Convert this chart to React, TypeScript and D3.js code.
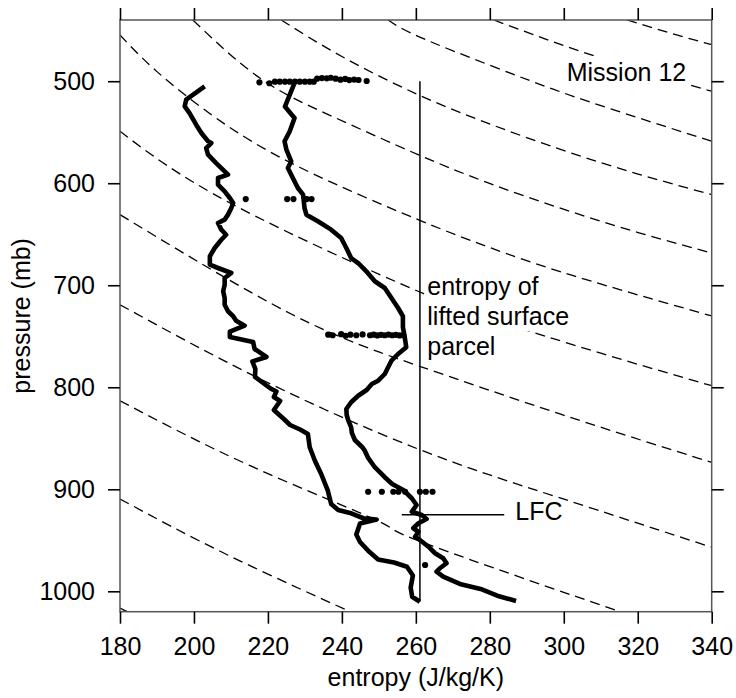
import { useEffect, useRef } from "react";
import * as d3 from "d3";

type Pt = [number, number];

const xTicks = [180, 200, 220, 240, 260, 280, 300, 320, 340];
const yTicks = [500, 600, 700, 800, 900, 1000];

// moist entropy profile: [entropy, pressure]
const entropyProfile: Pt[] = [
  [202.9, 505.0], [197.9, 518.1], [197.5, 524.6], [198.8, 531.2], [200.6, 542.6],
  [202.0, 550.8], [203.8, 558.9], [204.7, 560.6], [203.3, 565.5], [203.8, 572.0],
  [206.0, 580.2], [208.3, 588.3], [209.2, 591.6], [206.5, 594.9], [206.5, 601.4],
  [208.3, 607.9], [209.7, 614.5], [210.6, 619.4], [210.1, 624.3], [209.2, 630.8],
  [208.3, 635.7], [206.5, 639.0], [207.4, 645.5], [208.7, 650.5], [207.4, 655.4],
  [205.6, 663.5], [204.3, 671.6], [204.3, 679.9], [206.5, 683.1], [210.1, 688.0],
  [208.3, 692.9], [208.3, 699.5], [207.9, 705.9], [208.3, 712.5], [208.3, 719.1],
  [209.2, 725.5], [210.6, 730.4], [211.4, 734.8], [213.7, 739.6], [209.7, 745.5],
  [209.7, 750.7], [216.0, 755.6], [216.4, 762.5], [219.6, 770.3], [215.8, 774.7],
  [216.6, 782.1], [216.5, 789.9], [220.7, 801.2], [222.3, 804.2], [221.6, 809.5],
  [223.3, 813.5], [221.6, 822.3], [224.3, 831.1], [226.0, 837.0], [228.7, 841.4],
  [230.8, 845.8], [231.3, 858.8], [232.7, 872.0], [234.4, 885.0], [236.2, 901.4],
  [237.1, 914.4], [239.0, 920.3], [242.2, 923.2], [245.8, 928.4], [249.4, 929.6],
  [244.9, 933.5], [243.9, 944.3], [244.9, 951.7], [247.1, 960.2], [249.8, 968.8],
  [254.1, 971.8], [257.6, 975.9], [259.2, 984.5], [258.6, 996.3], [259.0, 1005.3],
  [261.1, 1010.2],
];

// saturated moist entropy profile: [entropy, pressure]
const satEntropyProfile: Pt[] = [
  [227.1, 502.5], [224.6, 524.8], [226.5, 533.1], [227.2, 536.1], [225.9, 549.1],
  [224.5, 558.9], [225.0, 567.1], [226.3, 578.5], [225.4, 585.1], [226.3, 591.6],
  [228.1, 604.7], [229.5, 611.2], [229.9, 624.3], [230.4, 630.8], [233.5, 637.3],
  [237.1, 645.5], [239.8, 653.7], [241.2, 663.5], [242.5, 673.3], [244.4, 678.2],
  [246.6, 686.3], [248.9, 696.1], [251.6, 702.7], [253.4, 712.5], [255.2, 722.3],
  [256.5, 730.4], [256.5, 741.2], [257.0, 751.0], [257.4, 760.8], [255.2, 767.4],
  [253.4, 774.0], [252.5, 780.4], [251.6, 787.0], [249.8, 793.6], [248.1, 796.8],
  [246.7, 802.7], [244.4, 808.3], [242.5, 814.7], [241.2, 821.3], [241.3, 827.2],
  [241.7, 832.1], [242.5, 839.2], [242.7, 844.8], [243.5, 851.7], [245.4, 858.3],
  [246.2, 862.2], [247.1, 869.3], [248.9, 878.4], [251.6, 888.2], [253.6, 894.8],
  [256.6, 900.7], [258.9, 908.8], [260.2, 915.4], [258.9, 922.0], [261.6, 925.2],
  [262.9, 929.1], [260.7, 933.3], [259.3, 938.2], [260.7, 941.6], [259.8, 946.5],
  [261.1, 949.7], [263.4, 956.3], [265.2, 962.7], [267.4, 967.6], [268.3, 972.5],
  [266.5, 977.4], [265.6, 980.8], [267.4, 985.7], [271.9, 992.8], [277.5, 997.7],
  [282.0, 1004.3], [287.1, 1009.5],
];

// individual sounding points
const dots500: Pt[] = [
  [217.7, 501.1], [220.4, 502.0], [221.9, 500.5], [223.2, 500.5], [224.6, 500.5],
  [225.9, 500.5], [227.3, 500.5], [228.6, 500.5], [230.0, 500.5], [231.3, 500.5],
  [232.4, 500.5], [233.3, 497.5], [234.6, 496.9], [235.9, 497.2], [237.0, 496.6],
  [238.3, 497.5], [239.6, 498.5], [240.9, 497.8], [242.0, 498.9], [243.3, 498.4],
  [244.5, 498.8], [246.7, 499.8],
];
const dots615: Pt[] = [[214.0, 615.5], [225.2, 615.5], [226.9, 615.5], [230.5, 615.5], [231.8, 615.5]];
const dots748: Pt[] = [
  [236.3, 748.5], [237.5, 749.0], [239.8, 748.0], [241.0, 749.5], [242.3, 748.5],
  [243.9, 749.0], [245.6, 748.2], [247.6, 749.0], [248.6, 748.5], [249.6, 749.2],
  [250.6, 748.6], [251.6, 749.0], [252.6, 748.4], [253.6, 749.0], [254.6, 748.6],
  [255.6, 749.2], [256.6, 748.8],
];
const dots902: Pt[] = [
  [247.1, 902.4], [250.8, 902.4], [253.9, 902.4], [255.3, 902.4], [257.1, 902.4],
  [261.1, 902.4], [262.7, 902.4], [264.5, 902.4],
];
const dots974: Pt[] = [[262.5, 974.2]];

// dashed reference curves
const dashed1: Pt[] = [[317.1, 440], [328.7, 452.7], [340, 464.2]];
const dashed2: Pt[] = [[281.1, 440], [294.9, 458.5], [308.6, 475.6], [323.3, 492.3], [340, 509.9]];
const dashed3: Pt[] = [[252.5, 440], [260.6, 456], [280.1, 484.5], [300.1, 511.7], [320.1, 535.8], [340, 558.9]];
const dashed4: Pt[] = [[223.6, 440], [240, 475.8], [260.6, 513.2], [280.1, 542.1], [300.1, 568.1], [320.1, 591], [340, 611.2]];
const dashed5: Pt[] = [[199.7, 440], [217.9, 497.1], [237.6, 534.8], [260.6, 572], [280.1, 600.4], [300.1, 625.7], [320.1, 648.3], [340, 668.4]];
const dashed6: Pt[] = [[180, 454.7], [190, 490.6], [206.1, 536.4], [228.7, 584.6], [260.6, 635.7], [280.1, 663.2], [302.8, 690.9], [340, 730.1]];
const dashed7: Pt[] = [[180, 549.1], [210.6, 621], [260.6, 705.9], [283, 736.3], [309.8, 766.4], [340, 798.5]];
const dashed8: Pt[] = [[180, 630.8], [226.3, 728.2], [260.6, 778.9], [299, 826.2], [340, 873.6]];
const dashed9: Pt[] = [[180, 719.1], [217.9, 791.8], [260.6, 860.5], [299, 908.5], [340, 956.9]];
const dashed10: Pt[] = [[180, 813.2], [215.2, 876.9], [249.8, 931.1], [263, 953.6], [314.5, 1019], [320, 1024]];
const dashed11: Pt[] = [[180, 909.5], [209.7, 965.4], [241.7, 1019], [245, 1024]];
const dashed12: Pt[] = [[180, 1016.4], [182, 1020], [184, 1023]];

const liftedEntropy = 261.1;
const liftedRange = [500, 1010];
const lfcPressure = 925;
const lfcRange = [256.2, 283.9];

const FONT = "'Liberation Sans', Arial, Helvetica, sans-serif";

export default function App() {
  const ref = useRef<SVGSVGElement>(null);

  useEffect(() => {
    const svg = d3.select(ref.current);
    svg.selectAll("*").remove();

    const left = 120, right = 711.7, top = 20, bottom = 611.7;
    const x = d3.scaleLinear().domain([180, 340]).range([left, right]);
    const y = d3.scaleLinear().domain([440, 1020]).range([top, bottom]);

    svg.append("defs").append("clipPath").attr("id", "plot")
      .append("rect").attr("x", left).attr("y", top)
      .attr("width", right - left).attr("height", bottom - top);

    const smooth = d3.line<Pt>().x(d => x(d[0])).y(d => y(d[1])).curve(d3.curveNatural);
    const jag = d3.line<Pt>().x(d => x(d[0])).y(d => y(d[1]));

    const dashed = [dashed1, dashed2, dashed3, dashed4, dashed5, dashed6,
      dashed7, dashed8, dashed9, dashed10, dashed11, dashed12];
    svg.append("g").attr("clip-path", "url(#plot)")
      .selectAll("path").data(dashed).enter().append("path")
      .attr("d", d => smooth(d))
      .attr("fill", "none").attr("stroke", "#000")
      .attr("stroke-width", 1.3).attr("stroke-dasharray", "10,6");

    // annotations, each line on its own white box
    const note = (lines: string[], sx: number, py: number, lh: number) => {
      lines.forEach((l, i) => {
        const g = svg.append("g");
        const rect = g.append("rect").attr("fill", "#fff");
        const t = g.append("text").attr("x", x(sx)).attr("y", y(py) + i * lh)
          .attr("font-family", FONT).attr("font-size", 25).attr("fill", "#000").text(l);
        const b = (t.node() as SVGTextElement).getBBox();
        rect.attr("x", b.x - 3).attr("y", b.y - 1).attr("width", b.width + 6).attr("height", b.height + 2);
      });
    };
    note(["Mission 12"], 300.8, 499.5, 0);
    note(["entropy of", "lifted surface", "parcel"], 263.1, 710, 29.7);

    // lifted parcel entropy and LFC marker
    svg.append("line")
      .attr("x1", x(liftedEntropy)).attr("x2", x(liftedEntropy))
      .attr("y1", y(liftedRange[0])).attr("y2", y(liftedRange[1]))
      .attr("stroke", "#000").attr("stroke-width", 1.5);
    svg.append("line")
      .attr("x1", x(lfcRange[0])).attr("x2", x(lfcRange[1]))
      .attr("y1", y(lfcPressure)).attr("y2", y(lfcPressure))
      .attr("stroke", "#000").attr("stroke-width", 1.5);
    svg.append("text").attr("x", x(286.9)).attr("y", y(lfcPressure) + 5)
      .attr("font-family", FONT).attr("font-size", 25).text("LFC");

    [entropyProfile, satEntropyProfile].forEach(p => {
      svg.append("path").attr("d", jag(p))
        .attr("fill", "none").attr("stroke", "#000").attr("stroke-width", 4.6)
        .attr("stroke-linejoin", "round").attr("stroke-linecap", "butt");
    });

    const dots = [...dots500, ...dots615, ...dots748, ...dots902, ...dots974];
    svg.append("g").selectAll("circle").data(dots).enter().append("circle")
      .attr("cx", d => x(d[0])).attr("cy", d => y(d[1])).attr("r", 3.1).attr("fill", "#000");

    // frame
    svg.append("rect").attr("x", left).attr("y", top)
      .attr("width", right - left).attr("height", bottom - top)
      .attr("fill", "none").attr("stroke", "#555").attr("stroke-width", 1.5);

    const styleAxis = (g: d3.Selection<SVGGElement, unknown, null, undefined>) => {
      g.select(".domain").remove();
      g.selectAll(".tick line").attr("stroke", "#000").attr("stroke-width", 1.6);
      g.selectAll(".tick text").attr("font-family", FONT).attr("font-size", 25).attr("fill", "#000");
    };

    svg.append("g").attr("transform", `translate(0,${bottom})`)
      .call(d3.axisBottom(x).tickValues(xTicks).tickSize(12).tickPadding(14).tickFormat(d3.format("d")).tickSizeOuter(0))
      .call(styleAxis);
    svg.append("g").attr("transform", `translate(0,${top})`)
      .call(d3.axisTop(x).tickValues(xTicks).tickSize(12).tickFormat(() => "").tickSizeOuter(0))
      .call(styleAxis);
    svg.append("g").attr("transform", `translate(${left},0)`)
      .call(d3.axisLeft(y).tickValues(yTicks).tickSize(12).tickPadding(13).tickFormat(d3.format("d")).tickSizeOuter(0))
      .call(styleAxis);
    svg.append("g").attr("transform", `translate(${right},0)`)
      .call(d3.axisRight(y).tickValues(yTicks).tickSize(12).tickFormat(() => "").tickSizeOuter(0))
      .call(styleAxis);

    svg.append("text").attr("x", (left + right) / 2).attr("y", 686)
      .attr("text-anchor", "middle").attr("font-family", FONT).attr("font-size", 25)
      .text("entropy (J/kg/K)");
    svg.append("text").attr("transform", `translate(30,${(top + bottom) / 2}) rotate(-90)`)
      .attr("text-anchor", "middle").attr("font-family", FONT).attr("font-size", 25)
      .text("pressure (mb)");
  }, []);

  return (
    <svg ref={ref} width={736} height={698}
      style={{ position: "absolute", left: 0, top: 0, background: "#fff" }} />
  );
}
